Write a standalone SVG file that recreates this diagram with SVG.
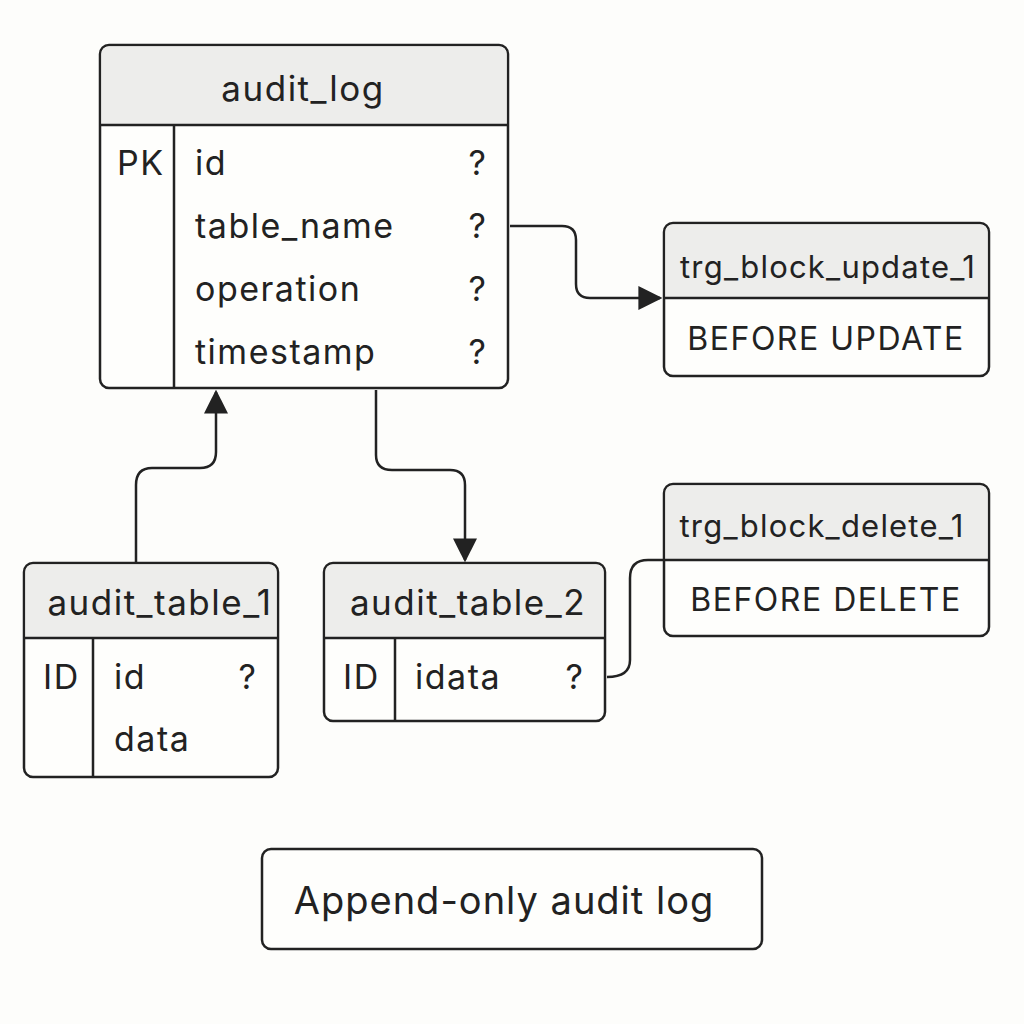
<svg xmlns="http://www.w3.org/2000/svg" width="1024" height="1024" viewBox="0 0 1024 1024">
<style>
.box{fill:#fefefc;stroke:#222;stroke-width:2.5}
.hd{fill:#ededeb}
.ln{stroke:#222;stroke-width:2.5;fill:none}
text{font-family:"Inter","Liberation Sans",sans-serif;fill:#222}
.t{font-size:35px;letter-spacing:1.5px}
.c{font-size:34px;letter-spacing:1.5px}
.g{font-size:31px;letter-spacing:1.2px}
.s{font-size:32px;letter-spacing:1.5px}
</style>
<defs>
<marker id="b" viewBox="0 0 10 10" refX="9" refY="5" markerWidth="24" markerHeight="24" markerUnits="userSpaceOnUse" orient="auto">
<path d="M0 0L10 5L0 10z" fill="#222"/>
</marker>
</defs>
<rect width="1024" height="1024" fill="#fdfdfb"/>
<g id="connectors">
<path class="ln" d="M510 226H562Q576 226 576 240V284Q576 298 590 298H660" marker-end="url(#b)"/>
<path class="ln" d="M136 563V485Q136 468 152 468H200Q216 468 216 452V392" marker-end="url(#b)"/>
<path class="ln" d="M376 390V455Q376 470 392 470H450Q465 470 465 485V560" marker-end="url(#b)"/>
<path class="ln" d="M607 677Q630 677 630 660V578Q630 560 648 560H664"/>
</g>
<g id="audit_log">
<rect class="box" x="100" y="45" width="408" height="343" rx="9"/>
<path class="hd" d="M109 46.5H499Q506.5 46.5 506.5 54V124H101.5V54Q101.5 46.5 109 46.5Z"/>
<path class="ln" d="M100 125H508M174 125V388"/>
<text class="t" x="303" y="101" text-anchor="middle">audit_log</text>
<text class="c" x="117" y="175">PK</text>
<text class="c" x="195" y="175">id</text>
<text class="c" x="195" y="238">table_name</text>
<text class="c" x="195" y="301">operation</text>
<text class="c" x="195" y="364">timestamp</text>
<text class="c" x="478" y="175" text-anchor="middle">?</text>
<text class="c" x="478" y="238" text-anchor="middle">?</text>
<text class="c" x="478" y="301" text-anchor="middle">?</text>
<text class="c" x="478" y="364" text-anchor="middle">?</text>
</g>
<g id="trg_block_update_1">
<rect class="box" x="664" y="223" width="325" height="153" rx="9"/>
<path class="hd" d="M673 224.5H980Q987.5 224.5 987.5 232V297H665.5V232Q665.5 224.5 673 224.5Z"/>
<path class="ln" d="M664 298H989"/>
<text class="g" x="828" y="278" text-anchor="middle">trg_block_update_1</text>
<text class="s" x="826" y="350" text-anchor="middle">BEFORE UPDATE</text>
</g>
<g id="trg_block_delete_1">
<rect class="box" x="664" y="484" width="325" height="152" rx="9"/>
<path class="hd" d="M673 485.5H980Q987.5 485.5 987.5 493V559H665.5V493Q665.5 485.5 673 485.5Z"/>
<path class="ln" d="M664 560H989"/>
<text class="g" x="822" y="537" text-anchor="middle">trg_block_delete_1</text>
<text class="s" x="826" y="611" text-anchor="middle">BEFORE DELETE</text>
</g>
<g id="audit_table_1">
<rect class="box" x="24" y="563" width="254" height="214" rx="9"/>
<path class="hd" d="M33 564.5H269Q276.5 564.5 276.5 572V637H25.5V572Q25.5 564.5 33 564.5Z"/>
<path class="ln" d="M24 638H278M93 638V777"/>
<text class="t" x="160" y="615" text-anchor="middle">audit_table_1</text>
<text class="c" x="43" y="689">ID</text>
<text class="c" x="114" y="689">id</text>
<text class="c" x="114" y="751">data</text>
<text class="c" x="248" y="689" text-anchor="middle">?</text>
</g>
<g id="audit_table_2">
<rect class="box" x="324" y="563" width="281" height="158" rx="9"/>
<path class="hd" d="M333 564.5H596Q603.5 564.5 603.5 572V637H325.5V572Q325.5 564.5 333 564.5Z"/>
<path class="ln" d="M324 638H605M395 638V721"/>
<text class="t" x="468" y="615" text-anchor="middle">audit_table_2</text>
<text class="c" x="343" y="689">ID</text>
<text class="c" x="415" y="689">idata</text>
<text class="c" x="575" y="689" text-anchor="middle">?</text>
</g>
<g id="note">
<rect class="box" x="262" y="849" width="500" height="100" rx="9"/>
<text x="504" y="914" font-size="38" letter-spacing="1" text-anchor="middle">Append-only audit log</text>
</g>
</svg>
